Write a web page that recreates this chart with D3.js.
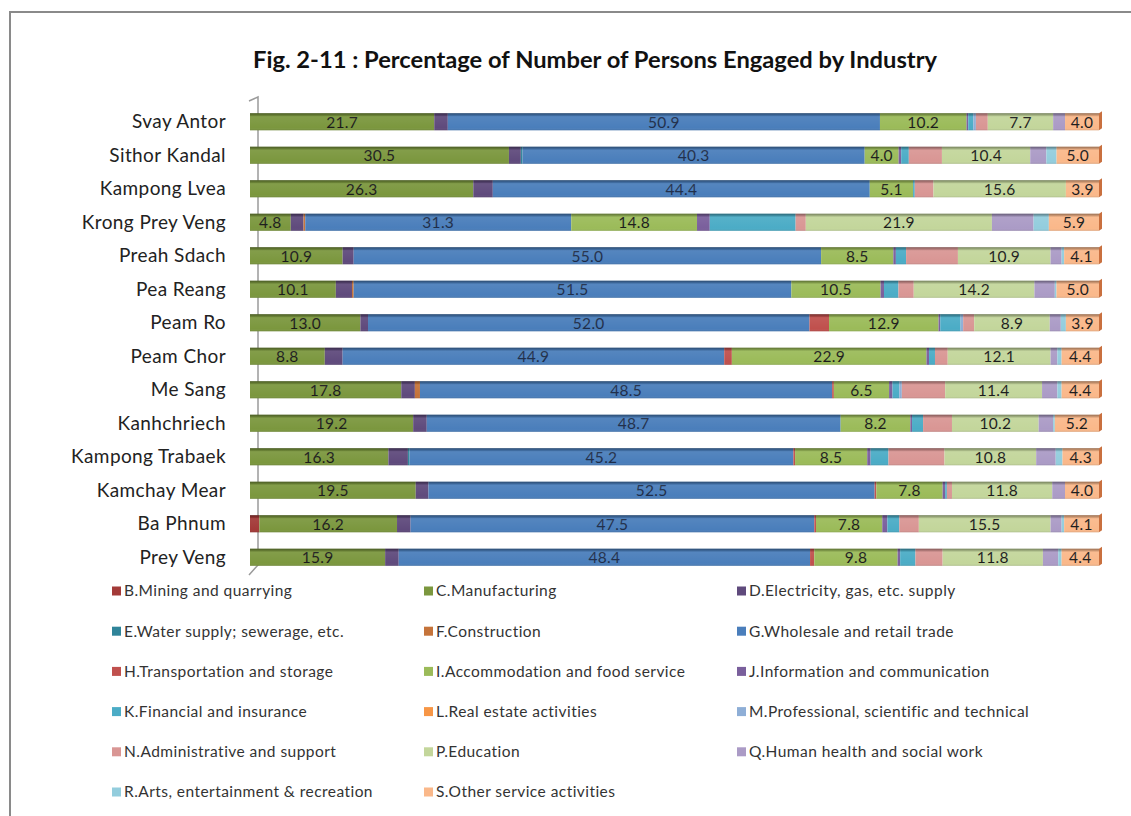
<!DOCTYPE html>
<html>
<head>
    <title>Fig. 2-11 Persons Engaged by Industry</title>
    <script src="https://d3js.org/d3.v7.min.js"></script>
    <style>
        body {
            margin: 0;
            background-color: #fff;
            font-family: Lato, "Open Sans", sans-serif;
        }
        svg text {
            font-family: Lato, "Open Sans", sans-serif;
        }
    </style>
</head>
<body>
    <div id="chart"></div>
    <script>
        // districts, top to bottom
        const districts = ['Svay Antor', 'Sithor Kandal', 'Kampong Lvea', 'Krong Prey Veng', 'Preah Sdach',
            'Pea Reang', 'Peam Ro', 'Peam Chor', 'Me Sang', 'Kanhchriech', 'Kampong Trabaek',
            'Kamchay Mear', 'Ba Phnum', 'Prey Veng'];

        const industries = ['B.Mining and quarrying', 'C.Manufacturing', 'D.Electricity, gas, etc. supply',
            'E.Water supply; sewerage, etc.', 'F.Construction', 'G.Wholesale and retail trade',
            'H.Transportation and storage', 'I.Accommodation and food service', 'J.Information and communication',
            'K.Financial and insurance', 'L.Real estate activities', 'M.Professional, scientific and technical',
            'N.Administrative and support', 'P.Education', 'Q.Human health and social work',
            'R.Arts, entertainment & recreation', 'S.Other service activities'];

        const colors = ['#a33a38', '#7b973e', '#5f4a7c', '#2f8499', '#c5733a', '#4a7ebb',
            '#c0504d', '#9bbb59', '#7a5f9c', '#4bacc6', '#f79646', '#8eaed6',
            '#d99694', '#c3d69b', '#ab9bc6', '#93cddd', '#fab88a'];

        // percentages per district (same order as districts)
        const mining         = [0, 0, 0, 0, 0, 0, 0, 0, 0, 0, 0, 0, 1.1, 0];
        const manufacturing  = [21.7, 30.5, 26.3, 4.8, 10.9, 10.1, 13.0, 8.8, 17.8, 19.2, 16.3, 19.5, 16.2, 15.9];
        const electricity    = [1.6, 1.4, 2.3, 1.5, 1.3, 1.9, 0.9, 2.1, 1.6, 1.6, 2.3, 1.5, 1.6, 1.6];
        const water          = [0, 0.2, 0, 0, 0, 0, 0, 0, 0, 0, 0.2, 0, 0, 0];
        const construction   = [0, 0, 0, 0.2, 0, 0.2, 0, 0, 0.6, 0, 0, 0, 0, 0];
        const wholesale      = [50.9, 40.3, 44.4, 31.3, 55.0, 51.5, 52.0, 44.9, 48.5, 48.7, 45.2, 52.5, 47.5, 48.4];
        const transport      = [0, 0, 0, 0, 0, 0, 2.3, 0.9, 0.2, 0, 0.2, 0.2, 0.2, 0.5];
        const accommodation  = [10.2, 4.0, 5.1, 14.8, 8.5, 10.5, 12.9, 22.9, 6.5, 8.2, 8.5, 7.8, 7.8, 9.8];
        const information    = [0.2, 0.3, 0, 1.5, 0.3, 0.4, 0.2, 0.3, 0.4, 0.2, 0.4, 0.3, 0.6, 0.3];
        const financial      = [0.6, 0.9, 0.2, 10.1, 1.2, 1.7, 2.4, 0.7, 0.8, 1.3, 2.1, 0.2, 1.4, 1.8];
        const realEstate     = [0, 0, 0, 0, 0, 0, 0, 0, 0, 0, 0, 0, 0, 0];
        const professional   = [0.3, 0, 0, 0, 0, 0, 0.3, 0, 0.3, 0, 0, 0, 0, 0];
        const administrative = [1.4, 3.9, 2.2, 1.2, 6.1, 1.8, 1.3, 1.5, 5.1, 3.4, 6.6, 0.6, 2.3, 3.2];
        const education      = [7.7, 10.4, 15.6, 21.9, 10.9, 14.2, 8.9, 12.1, 11.4, 10.2, 10.8, 11.8, 15.5, 11.8];
        const health         = [1.4, 1.9, 0, 4.9, 1.3, 2.4, 1.3, 0.8, 1.8, 1.7, 2.3, 1.5, 1.3, 1.8];
        const arts           = [0, 1.2, 0, 1.8, 0.3, 0.2, 0.6, 0.5, 0.5, 0.2, 0.8, 0, 0.3, 0.4];
        const other          = [4.0, 5.0, 3.9, 5.9, 4.1, 5.0, 3.9, 4.4, 4.4, 5.2, 4.3, 4.0, 4.1, 4.4];

        const seriesValues = [mining, manufacturing, electricity, water, construction, wholesale, transport,
            accommodation, information, financial, realEstate, professional, administrative, education,
            health, arts, other];

        // only these series carry data labels in the original
        const labelled = ['C.Manufacturing', 'G.Wholesale and retail trade', 'I.Accommodation and food service',
            'P.Education', 'S.Other service activities'];

        const width = 1131;
        const height = 816;

        const rows = districts.map((name, i) => {
            const row = { district: name };
            industries.forEach((ind, j) => { row[ind] = seriesValues[j][i]; });
            return row;
        });

        const stacked = d3.stack()
            .keys(industries)
            .offset(d3.stackOffsetExpand)(rows);

        const x = d3.scaleLinear().domain([0, 1]).range([250, 1099]);
        const y = d3.scaleBand().domain(districts).range([105, 574])
            .paddingInner(0.49).paddingOuter(0.245);
        const color = d3.scaleOrdinal().domain(industries).range(colors);

        const svg = d3.select('#chart').append('svg')
            .attr('width', width)
            .attr('height', height);

        // bar shading (3d look)
        const grad = svg.append('defs').append('linearGradient')
            .attr('id', 'shade').attr('x1', 0).attr('y1', 0).attr('x2', 0).attr('y2', 1);
        grad.append('stop').attr('offset', '0%').attr('stop-color', '#000').attr('stop-opacity', 0.4);
        grad.append('stop').attr('offset', '14%').attr('stop-color', '#000').attr('stop-opacity', 0.14);
        grad.append('stop').attr('offset', '22%').attr('stop-color', '#fff').attr('stop-opacity', 0.06);
        grad.append('stop').attr('offset', '85%').attr('stop-color', '#fff').attr('stop-opacity', 0);
        grad.append('stop').attr('offset', '100%').attr('stop-color', '#000').attr('stop-opacity', 0.12);

        // frame
        svg.append('path')
            .attr('d', `M10,${height} L10,12 L${width},12`)
            .attr('fill', 'none')
            .attr('stroke', '#8a8a8a')
            .attr('stroke-width', 2);

        // title
        svg.append('text')
            .attr('x', 595)
            .attr('y', 60)
            .attr('dy', '0.35em')
            .attr('text-anchor', 'middle')
            .attr('font-size', 22)
            .attr('font-weight', 'bold')
            .attr('fill', '#111')
            .attr('textLength', 684)
            .attr('lengthAdjust', 'spacingAndGlyphs')
            .text('Fig. 2-11 : Percentage of Number of Persons Engaged by Industry');

        // axis wall line
        const y0 = y.range()[0], y1 = y.range()[1];
        svg.append('path')
            .attr('d', `M249,${y0 - 4} L258,${y0 - 8} L258,${y1 - 9} L249,${y1 + 1}`)
            .attr('fill', 'none')
            .attr('stroke', '#9a9a9a')
            .attr('stroke-width', 1.5);

        // category labels
        svg.append('g')
            .selectAll('text')
            .data(districts)
            .join('text')
            .attr('x', 226)
            .attr('y', d => y(d) + y.bandwidth() / 2)
            .attr('dy', '0.35em')
            .attr('text-anchor', 'end')
            .attr('font-size', 19)
            .attr('letter-spacing', 0.4)
            .attr('fill', '#222')
            .text(d => d);

        // segments
        const layers = svg.append('g')
            .selectAll('g')
            .data(stacked)
            .join('g')
            .attr('fill', d => color(d.key));

        layers.selectAll('rect')
            .data(d => d.filter(s => s[1] - s[0] > 0))
            .join('rect')
            .attr('x', d => x(d[0]))
            .attr('y', d => y(d.data.district))
            .attr('width', d => x(d[1]) - x(d[0]))
            .attr('height', y.bandwidth());

        // right end cap of each bar
        svg.append('g')
            .selectAll('path')
            .data(districts)
            .join('path')
            .attr('d', d => {
                const xe = x(1), yt = y(d), h = y.bandwidth();
                return `M${xe},${yt} L${xe + 3},${yt - 2} L${xe + 3},${yt + h - 2} L${xe},${yt + h} Z`;
            })
            .attr('fill', '#c9703f');

        // shading overlay
        svg.append('g')
            .selectAll('rect')
            .data(districts)
            .join('rect')
            .attr('x', x(0))
            .attr('y', d => y(d))
            .attr('width', x(1) - x(0))
            .attr('height', y.bandwidth())
            .attr('fill', 'url(#shade)');

        // data labels
        layers.filter(d => labelled.includes(d.key))
            .selectAll('text')
            .data(d => d.map(s => ({ s, key: d.key })))
            .join('text')
            .attr('x', d => (x(d.s[0]) + x(d.s[1])) / 2)
            .attr('y', d => y(d.s.data.district) + y.bandwidth() / 2)
            .attr('dy', '0.38em')
            .attr('text-anchor', 'middle')
            .attr('font-size', 15.5)
            .attr('letter-spacing', 0.3)
            .attr('fill', d => d.key.startsWith('G') ? '#1d2c48' : '#1a1a1a')
            .text(d => d3.format('.1f')(d.s.data[d.key]));

        // legend, three columns
        const legendCols = [112, 424, 737];
        const legend = svg.append('g')
            .selectAll('g')
            .data(industries)
            .join('g')
            .attr('transform', (d, i) => `translate(${legendCols[i % 3]},${591 + Math.floor(i / 3) * 40.2})`);

        legend.append('rect')
            .attr('x', 0)
            .attr('y', -4.5)
            .attr('width', 9)
            .attr('height', 9)
            .attr('fill', d => color(d));

        legend.append('text')
            .attr('x', 12)
            .attr('y', 0)
            .attr('dy', '0.35em')
            .attr('font-size', 15.5)
            .attr('letter-spacing', 0.45)
            .attr('fill', '#333')
            .text(d => d);
    </script>
</body>
</html>
